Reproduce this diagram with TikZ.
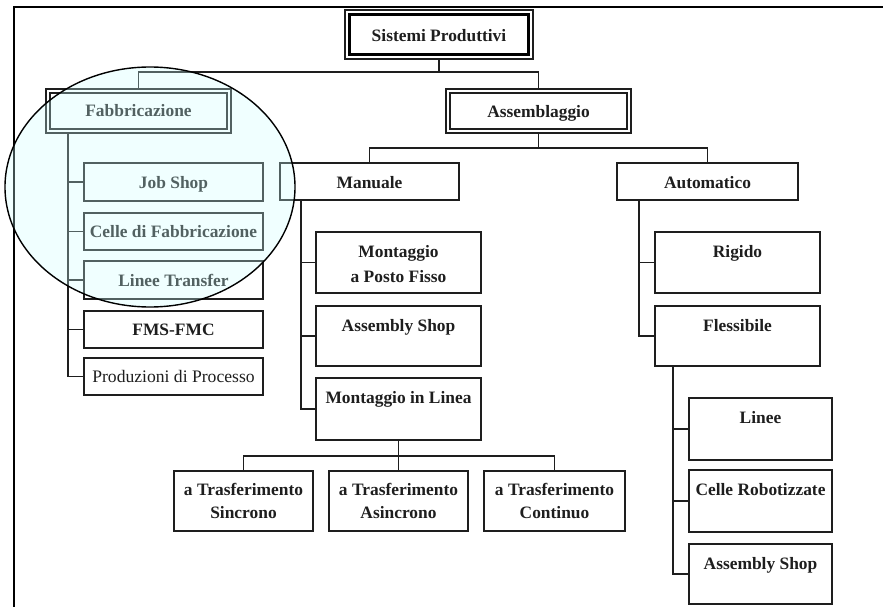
\documentclass[tikz,border=0pt]{standalone}
\usepackage{fontspec}
\setmainfont{Liberation Serif}
\definecolor{lcyan}{RGB}{205,255,255}
\definecolor{ink}{RGB}{30,30,30}
\newcommand\mkbox[5]{\node[box, minimum width={(#4-#2)*1pt}, minimum height={(#5-#3)*1pt}] (#1) at ({(#2+#4)/2},{(#3+#5)/2}) {};}
\begin{document}
\begin{tikzpicture}[x=1pt,y=-1pt,
  box/.style={draw=ink, line width=1.5pt, rectangle, inner sep=0pt, outer sep=0pt},
  lbl/.style={font=\fontsize{17.4}{20}\selectfont\bfseries, anchor=base, inner sep=0pt, text=ink},
  reg/.style={font=\fontsize{17.6}{20}\selectfont, anchor=base, inner sep=0pt, text=ink},
  conn/.style={draw=ink, line width=1.5pt},
  dbl/.style={draw=ink, line width=2.4pt}]
\useasboundingbox (0,0) rectangle (883,607);
% page frame
\draw[line width=2pt, line cap=rect] (14,607) -- (14,7) -- (883,7);

% root
\node[box, line width=1.1pt, minimum width=188pt, minimum height=49pt] (sp) at (439,34.5) {};
\draw[line width=3.2pt, draw=black] ([shift={(4.5,4.5)}]sp.north west) rectangle ([shift={(-4.5,-4.5)}]sp.south east);
\node[lbl] (tsp) at (439,42) {Sistemi Produttivi};

% level 1
\mkbox{fab}{46}{89}{231}{133}
\draw[dbl] ([shift={(4,4)}]fab.north west) rectangle ([shift={(-4,-4)}]fab.south east);
\node[lbl] (tfab) at (138.5,117) {Fabbricazione};
\mkbox{ass}{446}{89}{631}{133}
\draw[dbl] ([shift={(4,4)}]ass.north west) rectangle ([shift={(-4,-4)}]ass.south east);
\node[lbl] (tass) at (538.5,118) {Assemblaggio};

\draw[conn] (sp.south) -- ++(0,13) -| (fab.north);
\draw[conn] (sp.south) -- ++(0,13) -| (ass.north);

% Fabbricazione children
\mkbox{js}{84}{163}{263}{201}
\mkbox{cf}{84}{213}{263}{250}
\mkbox{lt}{84}{261}{263}{299}
\mkbox{fms}{84}{311}{263}{348}
\mkbox{pp}{84}{358}{263}{395}
\node[lbl] (tjs) at (173.5,188) {Job Shop};
\node[lbl] (tcf) at (173.5,237.5) {Celle di Fabbricazione};
\node[lbl] (tlt) at (173.5,286) {Linee Transfer};
\node[lbl] (tfms) at (173.5,335.5) {FMS-FMC};
\node[reg] (tpp) at (173.5,382.5) {Produzioni di Processo};
\coordinate (fsp) at ([xshift=22pt]fab.south west);
\foreach \n in {js,cf,lt,fms,pp} \draw[conn] (fsp) |- (\n.west);

% level 2 under Assemblaggio
\mkbox{man}{280}{163}{459}{200}
\mkbox{aut}{617}{163}{798}{200}
\node[lbl] (tman) at (369.5,188) {Manuale};
\node[lbl] (taut) at (707.5,188) {Automatico};
\draw[conn] (ass.south) -- ++(0,15) -| (man.north);
\draw[conn] (ass.south) -- ++(0,15) -| (aut.north);

% Manuale children
\mkbox{mp}{316}{232}{481}{293}
\mkbox{as1}{316}{306}{481}{366}
\mkbox{ml}{316}{378}{481}{440}
\node[lbl] (tmp1) at (398.5,257) {Montaggio};
\node[lbl] (tmp2) at (398.5,282) {a Posto Fisso};
\node[lbl] (tas1) at (398.5,331) {Assembly Shop};
\node[lbl] (tml) at (398.5,403) {Montaggio in Linea};
\coordinate (msp) at ([xshift=21pt]man.south west);
\foreach \n in {mp,as1,ml} \draw[conn] (msp) |- (\n.west);

% Montaggio in Linea children
\mkbox{b1}{174}{471}{313}{531}
\mkbox{b2}{329}{471}{468}{531}
\mkbox{b3}{484}{471}{625}{531}
\node[lbl] (tb1a) at (243.5,495) {a Trasferimento};
\node[lbl] (tb1b) at (243.5,518) {Sincrono};
\node[lbl] (tb2a) at (398.5,495) {a Trasferimento};
\node[lbl] (tb2b) at (398.5,518) {Asincrono};
\node[lbl] (tb3a) at (554.5,495) {a Trasferimento};
\node[lbl] (tb3b) at (554.5,518) {Continuo};
\foreach \n in {b1,b2,b3} \draw[conn] (ml.south) -- ++(0,16) -| (\n.north);

% Automatico children
\mkbox{rig}{655}{232}{820}{293}
\mkbox{fle}{655}{306}{820}{366}
\node[lbl] (trig) at (737.5,257) {Rigido};
\node[lbl] (tfle) at (737.5,331) {Flessibile};
\coordinate (asp) at ([xshift=22pt]aut.south west);
\foreach \n in {rig,fle} \draw[conn] (asp) |- (\n.west);

% Flessibile children
\mkbox{li}{689}{398}{832}{460}
\mkbox{cr}{689}{470}{832}{532}
\mkbox{as2}{689}{544}{832}{604}
\node[lbl] (tli) at (760.5,423) {Linee};
\node[lbl] (tcr) at (760.5,495) {Celle Robotizzate};
\node[lbl] (tas2) at (760.5,569) {Assembly Shop};
\coordinate (flsp) at ([xshift=18pt]fle.south west);
\foreach \n in {li,cr,as2} \draw[conn] (flsp) |- (\n.west);

% highlight ellipse
\fill[lcyan, fill opacity=0.3] (150,187) ellipse [x radius=145pt, y radius=120pt];
\draw[line width=1.4pt, black] (150,187) ellipse [x radius=145pt, y radius=120pt];
\end{tikzpicture}
\end{document}
